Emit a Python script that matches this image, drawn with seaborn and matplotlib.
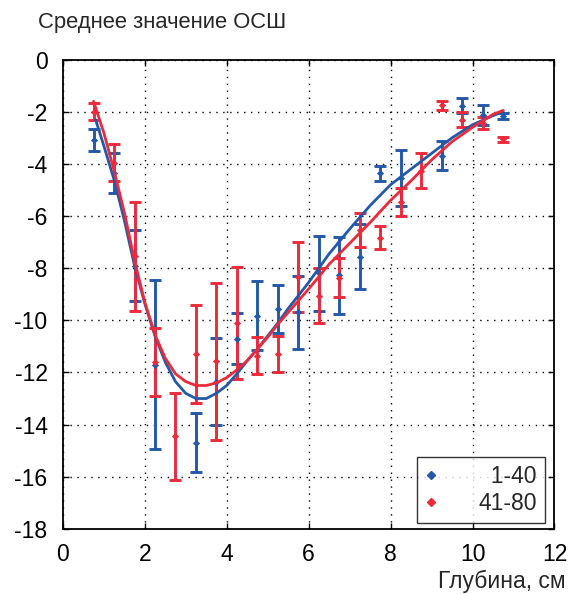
import numpy as np
import pandas as pd
import matplotlib
matplotlib.use("Agg")
import matplotlib.pyplot as plt
from matplotlib.lines import Line2D
import seaborn as sns

# Depth positions of the measurement groups (cm)
depth = [0.75, 1.25, 1.75, 2.25, 2.75, 3.25, 3.75, 4.25, 4.75, 5.25, 5.75,
         6.25, 6.75, 7.25, 7.75, 8.25, 8.75, 9.25, 9.75, 10.25, 10.75]

# Mean SNR and error half-width, group 1-40 (NaN where no measurement)
snr_1_40 = [-3.1, -4.35, -7.9, -11.7, np.nan, -14.69, -12.35, -10.7, -9.82, -9.58, -9.7,
            -8.2, -8.28, -7.56, -4.36, -4.55, np.nan, -3.68, -1.77, -2.13, -2.16]
err_1_40 = [0.42, 0.75, 1.35, 3.25, np.nan, 1.12, 1.67, 0.97, 1.33, 0.92, 1.41,
            1.43, 1.49, 1.25, 0.28, 1.08, np.nan, 0.54, 0.29, 0.38, 0.1]

# Mean SNR and error half-width, group 41-80
snr_41_80 = [-2.0, -3.95, -7.55, -11.6, -14.45, -11.3, -11.57, -10.1, -11.35, -11.3, -8.33,
             -9.05, -8.37, -6.53, -6.83, -5.47, -4.27, -1.75, -2.3, -2.43, -3.06]
err_41_80 = [0.32, 0.72, 2.08, 1.3, 1.67, 1.87, 3.02, 2.16, 0.7, 0.68, 1.35,
             1.06, 0.75, 0.65, 0.45, 0.53, 0.67, 0.17, 0.29, 0.24, 0.1]

# Approximating curves for both groups
fit_x_1_40 = [0.8, 1.0, 1.25, 1.5, 1.75, 2.0, 2.25, 2.5, 2.75, 3.0, 3.25, 3.5, 3.75, 4.0,
              4.25, 4.5, 4.75, 5.0, 5.25, 5.5, 5.75, 6.0, 6.5, 7.0, 7.5, 8.0, 8.5, 9.0,
              9.5, 10.0, 10.5, 10.75]
fit_y_1_40 = [-2.3, -3.3, -4.6, -6.15, -7.9, -9.35, -10.6, -11.6, -12.35, -12.8, -13.0,
              -13.0, -12.8, -12.5, -12.05, -11.55, -11.1, -10.6, -10.1, -9.55, -9.05,
              -8.55, -7.45, -6.5, -5.6, -4.8, -4.2, -3.6, -3.0, -2.5, -2.15, -2.0]

fit_x_41_80 = [0.75, 1.0, 1.25, 1.5, 1.75, 2.0, 2.25, 2.5, 2.75, 3.0, 3.25, 3.5, 3.75, 4.0,
               4.25, 4.5, 4.75, 5.0, 5.25, 5.5, 5.75, 6.0, 6.5, 7.0, 7.5, 8.0, 8.5, 9.0,
               9.5, 10.0, 10.5, 10.75]
fit_y_41_80 = [-1.6, -2.8, -4.25, -5.85, -7.7, -9.3, -10.55, -11.45, -12.05, -12.35, -12.5,
               -12.5, -12.4, -12.2, -11.9, -11.55, -11.1, -10.65, -10.15, -9.7, -9.25,
               -8.8, -7.85, -7.05, -6.25, -5.4, -4.65, -3.85, -3.15, -2.6, -2.1, -1.95]

labels = ["1-40", "41-80"]
x_ticks = [0, 2, 4, 6, 8, 10, 12]
y_ticks = [0, -2, -4, -6, -8, -10, -12, -14, -16, -18]

BLUE = "#2459a8"
RED = "#ec2a3a"

sns.set_theme(style="white")
plt.rcParams["font.family"] = ["Liberation Sans", "DejaVu Sans"]
plt.rcParams["axes.unicode_minus"] = False

fig = plt.figure(figsize=(5.71, 5.94), dpi=100)
ax = fig.add_axes([0.110, 0.1096, 0.861, 0.7901])

groups = [
    (snr_1_40, err_1_40, fit_x_1_40, fit_y_1_40, BLUE),
    (snr_41_80, err_41_80, fit_x_41_80, fit_y_41_80, RED),
]

for snr, err, fx, fy, color in groups:
    ax.errorbar(depth, snr, yerr=err, fmt="none", ecolor=color, elinewidth=2.1,
                capsize=4, capthick=2.1, zorder=3)
    sns.scatterplot(x=depth, y=snr, ax=ax, color=color, marker="D", s=10,
                    edgecolor=color, linewidth=0.5, zorder=4, legend=False)

for snr, err, fx, fy, color in groups:
    curve = pd.DataFrame({"x": fx, "y": fy})
    sns.lineplot(data=curve, x="x", y="y", ax=ax, color=color, linewidth=2.0,
                 sort=False, estimator=None, zorder=5)

ax.set_xlim(0, 12)
ax.set_ylim(-18, 0)
ax.set_xticks(x_ticks)
ax.set_yticks(y_ticks)
ax.set_xticklabels([str(t) for t in x_ticks])
ax.set_yticklabels([str(t) for t in y_ticks])
ax.tick_params(axis="both", labelsize=16.5, direction="in", length=4, width=1,
               top=True, right=True, bottom=True, left=True, colors="black")
ax.tick_params(axis="y", pad=11)
ax.tick_params(axis="x", pad=10)
ax.grid(True, color="black", linestyle=(0, (1, 4)), linewidth=1.0)
for side in ax.spines.values():
    side.set_color("black")
    side.set_linewidth(1.3)
ax.set_xlabel("")
ax.set_ylabel("")

fig.text(0.066, 0.962, "Среднее значение ОСШ", fontsize=15.8, ha="left", va="center")
fig.text(0.99, 0.021, "Глубина, см", fontsize=16.5, ha="right", va="center")

# pad labels with figure spaces so the numbers line up on the right
width = max(len(s) for s in labels)
shown = ["\u2007" * (width - len(s)) + s for s in labels]

handles = [Line2D([], [], linestyle="none", marker="D", markersize=4, color=BLUE),
           Line2D([], [], linestyle="none", marker="D", markersize=4, color=RED)]
leg = ax.legend(handles, shown, loc="lower right", fontsize=16.5, frameon=True,
                fancybox=False, edgecolor="black", handletextpad=1.8,
                borderpad=0.35, labelspacing=0.2, handlelength=0.5,
                borderaxespad=0.0, bbox_to_anchor=(0.98, 0.012))
leg.get_frame().set_linewidth(1.0)

fig.savefig("out.png", dpi=100)
